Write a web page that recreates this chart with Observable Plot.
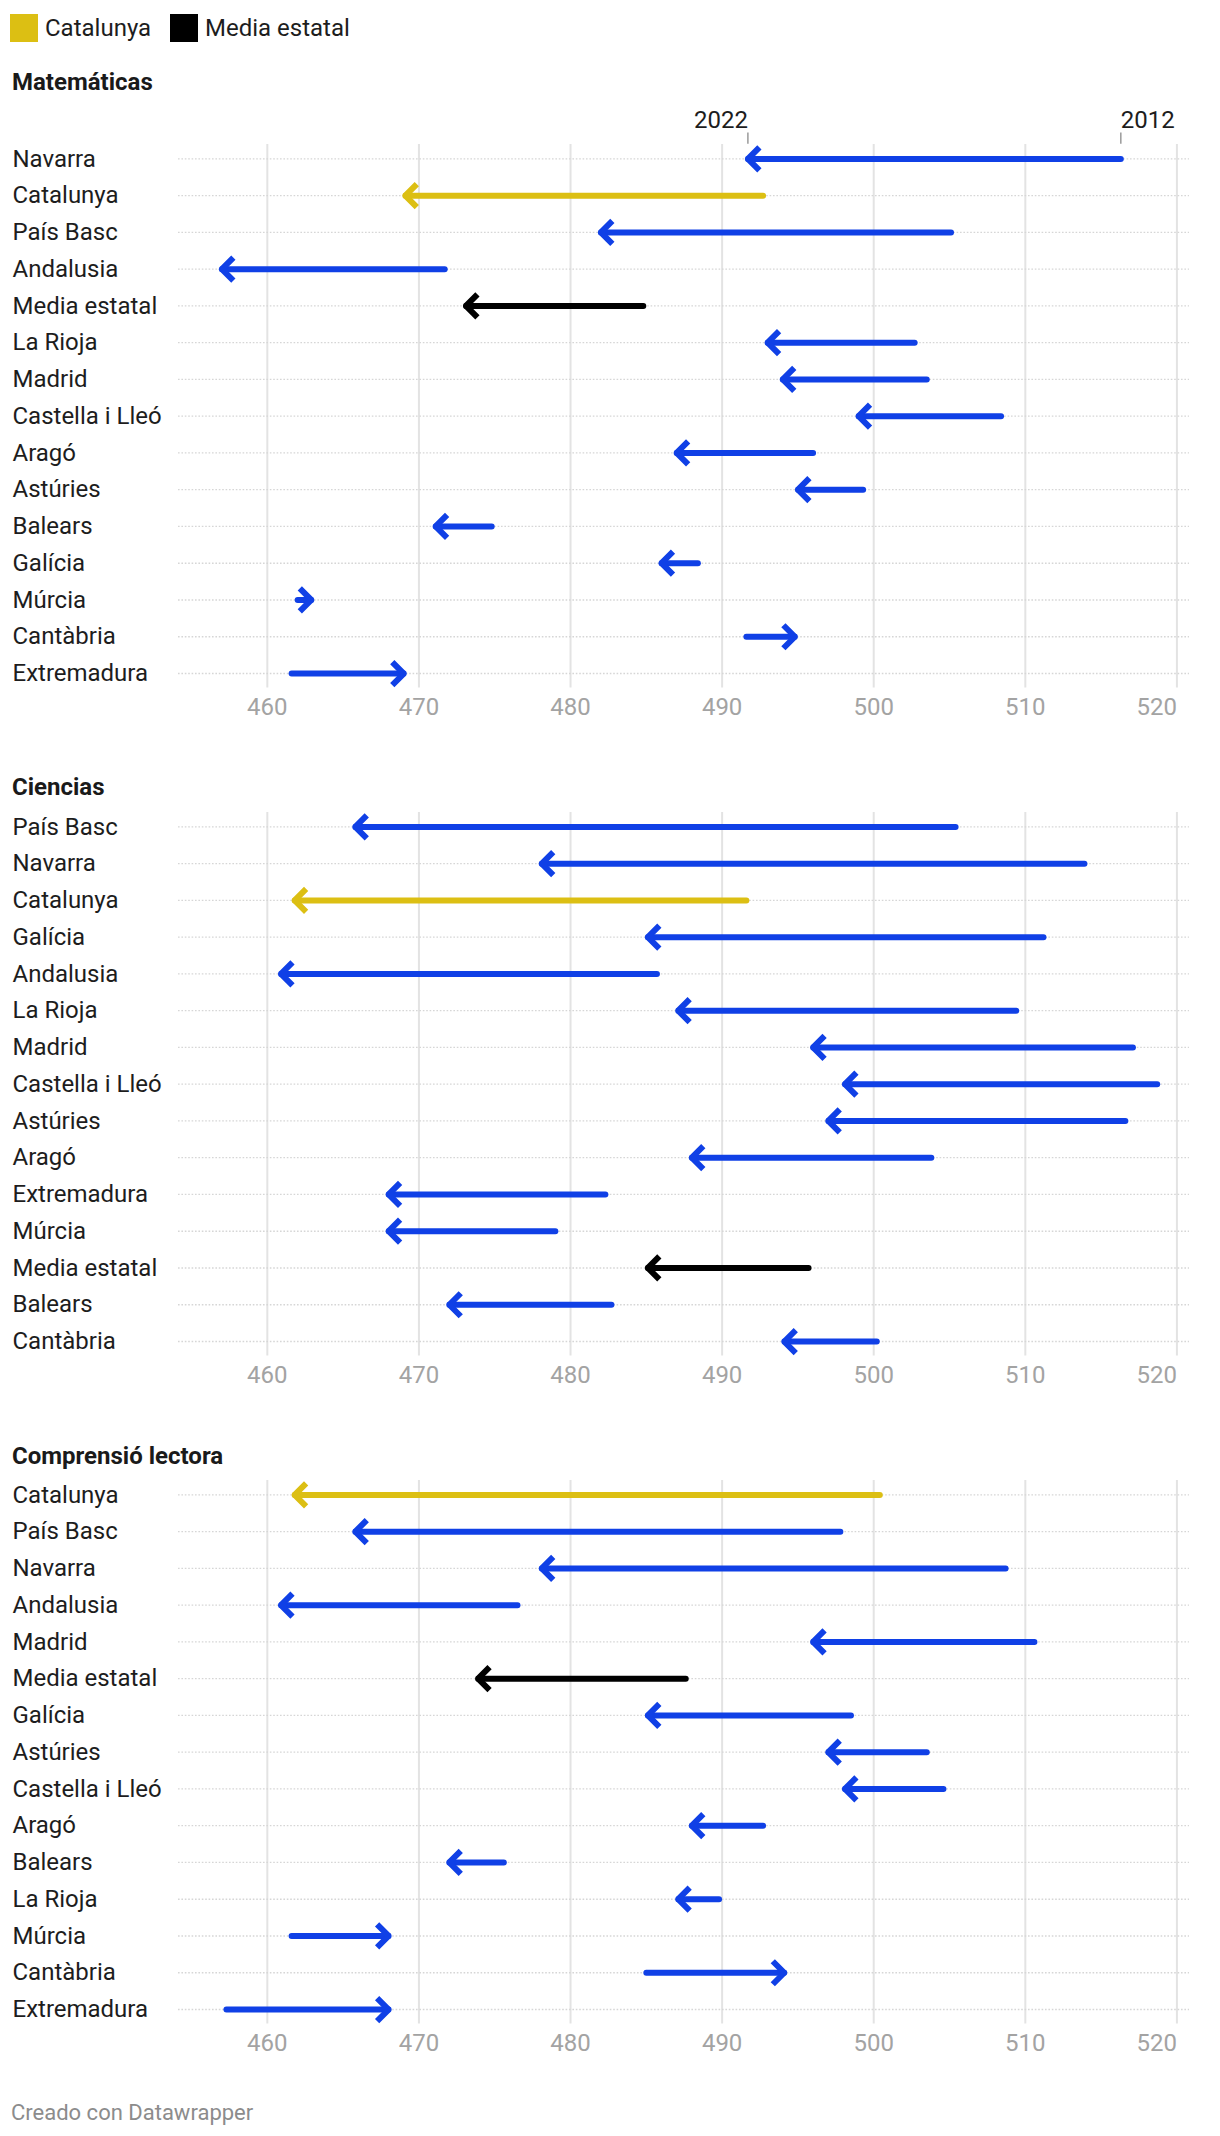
<!DOCTYPE html>
<html>
<head>
<meta charset="utf-8">
<script src="https://cdn.jsdelivr.net/npm/d3@7"></script>
<script src="https://cdn.jsdelivr.net/npm/@observablehq/plot@0.6"></script>
<style>
  html, body { margin: 0; padding: 0; background: #fff; }
  body { font-family: Roboto, "Noto Sans", sans-serif; color: #1d1d1d; }
  #wrap { position: relative; width: 1220px; height: 2136px; overflow: hidden; }
  .abs { position: absolute; }
  .title { font-weight: 700; font-size: 24px; line-height: 30px; left: 12px; z-index: 2; color: #1a1a1a; }
  .legend { font-size: 24px; line-height: 30px; z-index: 2; color: #1d1d1d; }
  .sw { width: 28px; height: 28px; }
  .caption { font-size: 22px; line-height: 30px; color: #8c8c8c; left: 11px; }
  svg { overflow: visible; }
</style>
</head>
<body>
<div id="wrap"></div>
<script>
// ---------- data ----------
const xTicks = [460, 470, 480, 490, 500, 510, 520];
const yearLabels = ["2012", "2022"];
const legendLabels = ["Catalunya", "Media estatal"];
const panelTitles = ["Matemáticas", "Ciencias", "Comprensió lectora"];

const mathRegions = ["Navarra", "Catalunya", "País Basc", "Andalusia", "Media estatal", "La Rioja", "Madrid", "Castella i Lleó", "Aragó", "Astúries", "Balears", "Galícia", "Múrcia", "Cantàbria", "Extremadura"];
const math2012 = [516.3, 492.7, 505.1, 471.7, 484.8, 502.7, 503.5, 508.4, 496.0, 499.3, 474.8, 488.4, 462.0, 491.6, 461.6];
const math2022 = [491.7, 469.1, 482.0, 457.0, 473.1, 493.0, 494.0, 499.0, 487.0, 495.0, 471.1, 486.0, 462.9, 494.8, 469.0];

const sciRegions = ["País Basc", "Navarra", "Catalunya", "Galícia", "Andalusia", "La Rioja", "Madrid", "Castella i Lleó", "Astúries", "Aragó", "Extremadura", "Múrcia", "Media estatal", "Balears", "Cantàbria"];
const sci2012 = [505.4, 513.9, 491.6, 511.2, 485.7, 509.4, 517.1, 518.7, 516.6, 503.8, 482.3, 479.0, 495.7, 482.7, 500.2];
const sci2022 = [465.8, 478.1, 461.8, 485.1, 460.9, 487.1, 496.0, 498.1, 497.0, 488.0, 468.0, 468.0, 485.1, 472.0, 494.1];

const readRegions = ["Catalunya", "País Basc", "Navarra", "Andalusia", "Madrid", "Media estatal", "Galícia", "Astúries", "Castella i Lleó", "Aragó", "Balears", "La Rioja", "Múrcia", "Cantàbria", "Extremadura"];
const read2012 = [500.4, 497.8, 508.7, 476.5, 510.6, 487.6, 498.5, 503.5, 504.6, 492.7, 475.6, 489.8, 461.6, 485.0, 457.3];
const read2022 = [461.8, 465.8, 478.1, 460.9, 496.0, 473.9, 485.1, 497.0, 498.1, 488.0, 472.0, 487.1, 468.0, 494.1, 468.0];

const colors = { "Catalunya": "#dcbf13", "Media estatal": "#000000" };
const defaultColor = "#1040e6";

// ---------- layout ----------
const W = 1220;
const ML = 178, MR = 31;
const xDomain = [454.14, 520.83];
const band = 36.76;
const nRows = 15;
const frameH = band * nRows;
const panels = [
  { title: panelTitles[0], regions: mathRegions, a: math2012, b: math2022, titleY: 82, frameTop: 139.6, years: true },
  { title: panelTitles[1], regions: sciRegions, a: sci2012, b: sci2022, titleY: 787, frameTop: 807.6, years: false },
  { title: panelTitles[2], regions: readRegions, a: read2012, b: read2022, titleY: 1455.5, frameTop: 1475.6, years: false }
];

const ns = "http://www.w3.org/2000/svg";
function chevron(color) {
  const m = document.createElementNS(ns, "marker");
  m.setAttribute("viewBox", "-20 -20 40 40");
  m.setAttribute("markerWidth", 40);
  m.setAttribute("markerHeight", 40);
  m.setAttribute("markerUnits", "userSpaceOnUse");
  m.setAttribute("refX", 0);
  m.setAttribute("refY", 0);
  m.setAttribute("orient", "auto");
  m.setAttribute("overflow", "visible");
  const p = document.createElementNS(ns, "path");
  p.setAttribute("d", "M-11.5,-11.5L0,0L-11.5,11.5");
  p.setAttribute("fill", "none");
  p.setAttribute("stroke", color);
  p.setAttribute("stroke-width", 6);
  p.setAttribute("stroke-linejoin", "miter");
  p.setAttribute("stroke-linecap", "butt");
  m.appendChild(p);
  return m;
}
let markerOpt = chevron;
try { Plot.link([], { x1: 0, x2: 1, y1: 0, y2: 0, markerEnd: chevron }); }
catch (e) { markerOpt = "arrow"; }

const wrap = document.getElementById("wrap");
function place(el, left, top) { el.style.left = left + "px"; el.style.top = top + "px"; wrap.appendChild(el); }

// legend
{
  const xs = [10, 170];
  legendLabels.forEach((lab, i) => {
    const sw = document.createElement("div");
    sw.className = "abs sw";
    sw.style.background = colors[lab];
    place(sw, xs[i], 14);
    const t = document.createElement("div");
    t.className = "abs legend";
    t.textContent = lab;
    place(t, xs[i] + 35, 13);
  });
}

panels.forEach((p) => {
  const rows = p.regions.map((r, i) => ({ region: r, v2012: p.a[i], v2022: p.b[i], color: colors[r] || defaultColor }));
  const marginTop = p.years ? 40 : 6;
  const marginBottom = 45;
  const H = marginTop + frameH + marginBottom;
  const first = rows.slice(0, 1);
  const marks = [
    Plot.ruleX(xTicks, { x: (d) => d, stroke: "#e3e3e3", strokeWidth: 2, insetTop: 4, insetBottom: 4 }),
    Plot.ruleY(p.regions, { y: (d) => d, stroke: "#d6d6d6", strokeWidth: 1.3, strokeDasharray: "1.6,1.8" }),
    ...[defaultColor, colors["Media estatal"], colors["Catalunya"]].map((c) =>
      Plot.link(rows.filter((d) => d.color === c), {
        x1: "v2012", x2: "v2022", y1: "region", y2: "region",
        stroke: c, strokeWidth: 6, strokeLinecap: "round", markerEnd: markerOpt
      })
    ),
    Plot.text(p.regions, { y: (d) => d, text: (d) => d, frameAnchor: "left", textAnchor: "start", dx: -166, fill: "#1d1d1d", fontSize: 24 }),
    Plot.text(xTicks.slice(0, -1), { x: (d) => d, text: (d) => String(d), frameAnchor: "bottom", dy: 23, fill: "#a3a3a3", fontSize: 24 }),
    Plot.text(xTicks.slice(-1), { x: (d) => d, text: (d) => String(d), frameAnchor: "bottom", dy: 23, textAnchor: "end", fill: "#a3a3a3", fontSize: 24 })
  ];
  if (p.years) {
    marks.push(
      Plot.tickX(first, { x: "v2022", y: "region", stroke: "#9a9a9a", strokeWidth: 1.5, dy: -7.6, insetBottom: 25.3 }),
      Plot.tickX(first, { x: "v2012", y: "region", stroke: "#9a9a9a", strokeWidth: 1.5, dy: -7.6, insetBottom: 25.3 }),
      Plot.text(first, { x: "v2022", y: "region", text: () => yearLabels[1], textAnchor: "end", dy: -38.5, fill: "#1d1d1d", fontSize: 24 }),
      Plot.text(first, { x: "v2012", y: "region", text: () => yearLabels[0], textAnchor: "start", dy: -38.5, fill: "#1d1d1d", fontSize: 24 })
    );
  }
  const chart = Plot.plot({
    width: W, height: H,
    marginLeft: ML, marginRight: MR, marginTop, marginBottom,
    x: { domain: xDomain, axis: null },
    y: { domain: p.regions, type: "band", padding: 0, round: false, axis: null },
    style: { fontFamily: "Roboto, 'Noto Sans', sans-serif", fontSize: "24px", background: "transparent", overflow: "visible" },
    marks
  });
  chart.classList.add("abs");
  chart.style.zIndex = 1;
  place(chart, 0, p.frameTop - marginTop);

  const t = document.createElement("div");
  t.className = "abs title";
  t.textContent = p.title;
  place(t, 12, p.titleY - 15);
});

const cap = document.createElement("div");
cap.className = "abs caption";
cap.textContent = "Creado con Datawrapper";
place(cap, 11, 2113 - 15);
</script>
</body>
</html>
